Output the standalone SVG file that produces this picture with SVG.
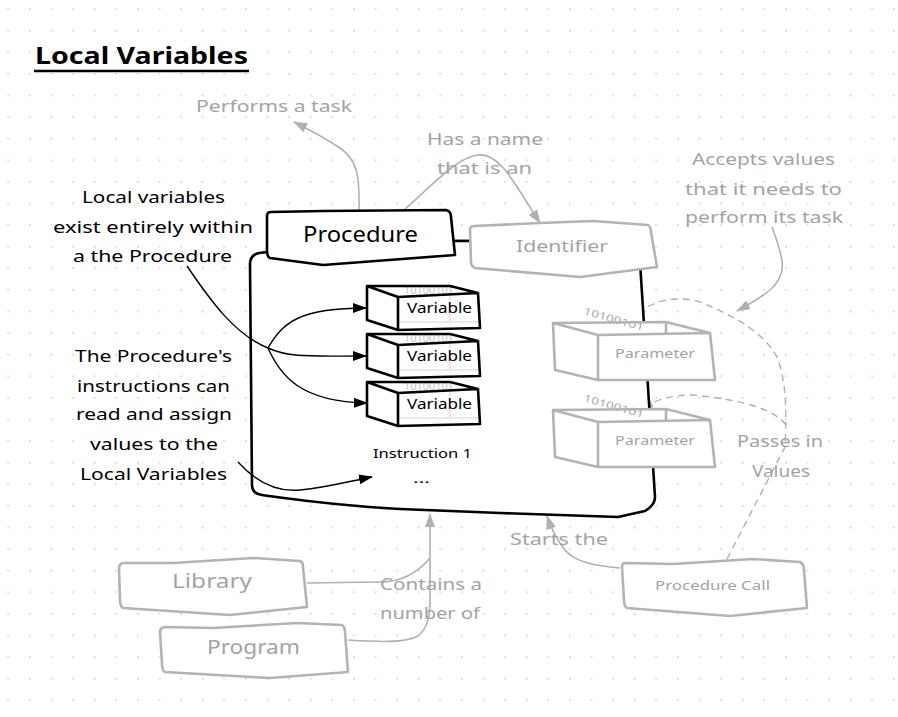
<svg xmlns="http://www.w3.org/2000/svg" width="898" height="717" viewBox="0 0 898 717">
<style>
.t{font-family:"Noto Sans","DejaVu Sans",sans-serif;}
.blk{fill:#000;}
.gry{fill:#a3a3a3;}
.nb{fill:#fff;stroke:#000;stroke-width:2.6;stroke-linejoin:round;stroke-linecap:round;}
.ng{fill:#fff;stroke:#b3b3b3;stroke-width:2.6;stroke-linejoin:round;stroke-linecap:round;}
.lb{fill:none;stroke:#000;stroke-width:2.6;stroke-linejoin:round;stroke-linecap:round;}
.lg{fill:none;stroke:#b3b3b3;stroke-width:2.6;stroke-linejoin:round;stroke-linecap:round;}
.cb{fill:none;stroke:#000;stroke-width:1.4;}
.cg{fill:none;stroke:#b0b0b0;stroke-width:1.6;}
.cd{fill:none;stroke:#b0b0b0;stroke-width:1.4;stroke-dasharray:7 5;}
.bin{font-family:"Noto Sans","DejaVu Sans",sans-serif;font-size:10px;}
</style>
<defs>
<pattern id="dots" x="7.4" y="8.2" width="21.6" height="21.6" patternUnits="userSpaceOnUse">
<rect x="0" y="0" width="1.6" height="1.6" fill="#cdcdcd"/>
</pattern>
<marker id="ab" viewBox="0 0 14 10" refX="13" refY="5" markerWidth="14" markerHeight="10" markerUnits="userSpaceOnUse" orient="auto">
<path d="M0,0 L14,5 L0,10 Z" fill="#000"/>
</marker>
<marker id="ag" viewBox="0 0 14 10" refX="13" refY="5" markerWidth="14" markerHeight="10" markerUnits="userSpaceOnUse" orient="auto">
<path d="M0,0 L14,5 L0,10 Z" fill="#b0b0b0"/>
</marker>
</defs>
<rect x="0" y="0" width="898" height="717" fill="#fff"/>
<rect x="0" y="0" width="898" height="717" fill="url(#dots)"/>

<g id="title">
<text class="t blk" x="35" y="64" font-size="23" font-weight="bold" textLength="213" lengthAdjust="spacingAndGlyphs">Local Variables</text>
<line x1="34" y1="71" x2="249" y2="71" stroke="#000" stroke-width="2.4"/>
</g>

<g id="connectors">
<path class="cg" d="M359,211 C359,185 361,162 340,148 C325,138 310,130 294,122" marker-end="url(#ag)"/>
<path class="cg" d="M405,209 C430,188 455,158 478,155 C500,152 515,185 540,223" marker-end="url(#ag)"/>
<path class="cg" d="M772,227 C782,255 790,273 770,290 C760,298 750,304 737,311" marker-end="url(#ag)"/>
<path class="cg" d="M307,583 L380,582 C405,582 420,570 430,558"/>
<path class="cg" d="M348,640 C380,642 405,643 418,636 C428,628 430,615 430,600 L430,514" marker-end="url(#ag)"/>
<path class="cg" d="M620,568 C595,566 575,562 565,550 C556,539 551,528 547,516" marker-end="url(#ag)"/>
<path class="cd" d="M727,559 L785,447 C787,410 786,380 777,357 C765,335 740,318 700,302 C675,295 652,300 633,317" marker-end="url(#ag)"/>
<path class="cd" d="M786,425 C775,410 745,400 693,395 C672,395 658,399 640,409" marker-end="url(#ag)"/>
</g>

<g id="procedure-body">
<path class="nb" d="M268,252 L259,253 Q250,255 250,264 L252,486 Q253,494 262,495 C300,500 330,505 400,509 L500,513 L618,517 L645,511 Q655,505 655,497 L640,262 L640,241 L455,241"/>
<path class="nb" d="M268,252 L455,241 L640,241 L640,262" stroke="none"/>
<text class="t blk" x="373" y="458" font-size="13" textLength="99" lengthAdjust="spacingAndGlyphs">Instruction 1</text>
<text class="t blk" x="413" y="483" font-size="13" textLength="17" lengthAdjust="spacingAndGlyphs">...</text>
</g>

<g id="procedure">
<path class="nb" d="M271,212 L323,211 L446,210 Q451,211 451,217 L455,255 L323,265 L270,258 Q267,257 267,250 L267,216 Q267,212 271,212 Z"/>
<text class="t blk" x="303" y="242" font-size="22" textLength="115" lengthAdjust="spacingAndGlyphs">Procedure</text>
</g>

<g id="identifier">
<path class="ng" d="M474,226 L540,223 L593,221 L648,225 Q651,227 651,232 L657,267 L580,277 L475,268 Q471,266 471,262 L470,230 Q470,226 474,226 Z"/>
<text class="t gry" x="516" y="252" font-size="17" textLength="92" lengthAdjust="spacingAndGlyphs">Identifier</text>
</g>

<g id="variable-1">
<text class="bin" x="404" y="294" fill="#c6c6c6" textLength="50" lengthAdjust="spacingAndGlyphs">10100101</text>
<path d="M450,286 L450,324 M398,322 L478,322" fill="none" stroke="#e4e4e4" stroke-width="1.6"/>
<path class="lb" d="M367,286 L450,286 L478,293 L480,328 L398,330 L367,320 Z M367,286 L398,297 L478,293 M398,297 L398,330"/>
<text class="t blk" x="407" y="313" font-size="14" textLength="65" lengthAdjust="spacingAndGlyphs">Variable</text>
</g>
<g id="variable-2" transform="translate(0,48)">
<path d="M367,286 L450,286 L478,293 L480,328 L398,330 L367,320 Z" fill="#fff"/>
<text class="bin" x="404" y="294" fill="#c6c6c6" textLength="50" lengthAdjust="spacingAndGlyphs">10100101</text>
<path d="M450,286 L450,324 M398,322 L478,322" fill="none" stroke="#e4e4e4" stroke-width="1.6"/>
<path class="lb" d="M367,286 L450,286 L478,293 L480,328 L398,330 L367,320 Z M367,286 L398,297 L478,293 M398,297 L398,330"/>
<text class="t blk" x="407" y="313" font-size="14" textLength="65" lengthAdjust="spacingAndGlyphs">Variable</text>
</g>
<g id="variable-3" transform="translate(0,96)">
<path d="M367,286 L450,286 L478,293 L480,328 L398,330 L367,320 Z" fill="#fff"/>
<text class="bin" x="404" y="294" fill="#c6c6c6" textLength="50" lengthAdjust="spacingAndGlyphs">10100101</text>
<path d="M450,286 L450,324 M398,322 L478,322" fill="none" stroke="#e4e4e4" stroke-width="1.6"/>
<path class="lb" d="M367,286 L450,286 L478,293 L480,328 L398,330 L367,320 Z M367,286 L398,297 L478,293 M398,297 L398,330"/>
<text class="t blk" x="407" y="313" font-size="14" textLength="65" lengthAdjust="spacingAndGlyphs">Variable</text>
</g>

<g id="parameter-1">
<path d="M553,323 L666,322 L710,333 L715,380 L598,380 L555,370 Z" fill="#fff"/>
<text class="bin" x="583" y="314" fill="#a8a8a8" font-size="12" transform="rotate(16 583 314)" textLength="62" lengthAdjust="spacingAndGlyphs">10100101</text>
<path class="lg" d="M553,323 L666,322 L710,333 L715,380 L598,380 L555,370 Z M553,323 L598,335 L710,333 M598,335 L598,380 M666,322 L666,333"/>
<text class="t gry" x="615" y="358" font-size="13" textLength="80" lengthAdjust="spacingAndGlyphs">Parameter</text>
</g>
<g id="parameter-2" transform="translate(0,87)">
<path d="M553,323 L666,322 L710,333 L715,380 L598,380 L555,370 Z" fill="#fff"/>
<text class="bin" x="583" y="314" fill="#a8a8a8" font-size="12" transform="rotate(16 583 314)" textLength="62" lengthAdjust="spacingAndGlyphs">10100101</text>
<path class="lg" d="M553,323 L666,322 L710,333 L715,380 L598,380 L555,370 Z M553,323 L598,335 L710,333 M598,335 L598,380 M666,322 L666,333"/>
<text class="t gry" x="615" y="358" font-size="13" textLength="80" lengthAdjust="spacingAndGlyphs">Parameter</text>
</g>

<g id="procedure-call">
<path class="ng" d="M626,563 L673,564 L753,559 L800,562 Q804,564 804,570 L807,608 L730,616 L627,608 Q624,606 624,600 L622,567 Q622,563 626,563 Z"/>
<text class="t gry" x="655" y="590" font-size="13" textLength="115" lengthAdjust="spacingAndGlyphs">Procedure Call</text>
</g>

<g id="library">
<path class="ng" d="M124,563 L173,563 L253,558 L300,561 Q303,562 303,567 L307,607 L230,615 L123,608 Q120,606 120,600 L119,569 Q119,563 124,563 Z"/>
<text class="t gry" x="172" y="588" font-size="19" textLength="80" lengthAdjust="spacingAndGlyphs">Library</text>
</g>

<g id="program">
<path class="ng" d="M166,627 L213,628 L297,623 L342,625 Q345,627 345,632 L348,672 L270,678 L165,672 Q162,670 162,664 L160,632 Q160,627 166,627 Z"/>
<text class="t gry" x="207" y="654" font-size="19" textLength="93" lengthAdjust="spacingAndGlyphs">Program</text>
</g>

<g id="black-connectors">
<path class="cb" d="M187,266 C210,300 235,335 268,348 C283,322 300,308 366,308" marker-end="url(#ab)"/>
<path class="cb" d="M268,348 C290,358 310,356 366,356" marker-end="url(#ab)"/>
<path class="cb" d="M268,348 C280,375 300,402 367,403" marker-end="url(#ab)"/>
<path class="cb" d="M238,462 C258,484 280,492 300,490 C330,487 350,481 372,477" marker-end="url(#ab)"/>
</g>

<g id="labels">
<text class="t gry" x="196" y="112" font-size="16" textLength="156" lengthAdjust="spacingAndGlyphs">Performs a task</text>
<text class="t gry" x="427" y="145" font-size="16" textLength="116" lengthAdjust="spacingAndGlyphs">Has a name</text>
<text class="t gry" x="437" y="174" font-size="16" textLength="95" lengthAdjust="spacingAndGlyphs">that is an</text>
<text class="t gry" x="692" y="165" font-size="16" textLength="143" lengthAdjust="spacingAndGlyphs">Accepts values</text>
<text class="t gry" x="685" y="195" font-size="16" textLength="157" lengthAdjust="spacingAndGlyphs">that it needs to</text>
<text class="t gry" x="685" y="223" font-size="16" textLength="158" lengthAdjust="spacingAndGlyphs">perform its task</text>
<text class="t gry" x="737" y="447" font-size="16" textLength="86" lengthAdjust="spacingAndGlyphs">Passes in</text>
<text class="t gry" x="752" y="477" font-size="16" textLength="58" lengthAdjust="spacingAndGlyphs">Values</text>
<text class="t gry" x="510" y="545" font-size="16" textLength="98" lengthAdjust="spacingAndGlyphs">Starts the</text>
<text class="t gry" x="380" y="590" font-size="16" textLength="102" lengthAdjust="spacingAndGlyphs">Contains a</text>
<text class="t gry" x="380" y="619" font-size="16" textLength="100" lengthAdjust="spacingAndGlyphs">number of</text>
<text class="t blk" x="82" y="203" font-size="17" textLength="143" lengthAdjust="spacingAndGlyphs">Local variables</text>
<text class="t blk" x="53" y="233" font-size="17" textLength="200" lengthAdjust="spacingAndGlyphs">exist entirely within</text>
<text class="t blk" x="73" y="262" font-size="17" textLength="159" lengthAdjust="spacingAndGlyphs">a the Procedure</text>
<text class="t blk" x="75" y="362" font-size="17" textLength="157" lengthAdjust="spacingAndGlyphs">The Procedure's</text>
<text class="t blk" x="77" y="392" font-size="17" textLength="153" lengthAdjust="spacingAndGlyphs">instructions can</text>
<text class="t blk" x="76" y="420" font-size="17" textLength="156" lengthAdjust="spacingAndGlyphs">read and assign</text>
<text class="t blk" x="90" y="450" font-size="17" textLength="128" lengthAdjust="spacingAndGlyphs">values to the</text>
<text class="t blk" x="80" y="480" font-size="17" textLength="147" lengthAdjust="spacingAndGlyphs">Local Variables</text>
</g>
</svg>
